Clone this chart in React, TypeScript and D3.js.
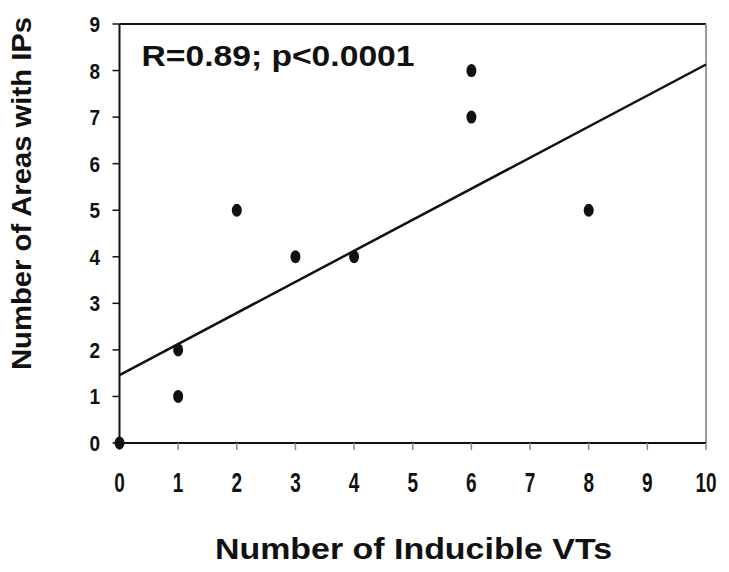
import React from "react";
import * as d3 from "d3";

const xTicks = [0, 1, 2, 3, 4, 5, 6, 7, 8, 9, 10];
const yTicks = [0, 1, 2, 3, 4, 5, 6, 7, 8, 9];
const pointX = [0, 1, 1, 2, 3, 4, 6, 6, 8];
const pointY = [0, 1, 2, 5, 4, 4, 7, 8, 5];
const fitX = [0, 10];
const fitY = [1.46, 8.13];
const xTitle = "Number of Inducible VTs";
const yTitle = "Number of Areas with IPs";
const annotation = "R=0.89; p<0.0001";

const W = 729;
const H = 572;
const left = 119.5;
const right = 706;
const top = 24;
const bottom = 443;
const font = "'Liberation Sans', Arial, sans-serif";

export default function App() {
  const x = d3.scaleLinear().domain([0, 10]).range([left, right]);
  const y = d3.scaleLinear().domain([0, 9]).range([bottom, top]);
  const line = d3
    .line<number>()
    .x((_, i) => x(fitX[i]))
    .y((d) => y(d));

  return (
    <svg
      width={W}
      height={H}
      style={{ position: "absolute", left: 0, top: 0, background: "#fff" }}
    >
      <rect x={0} y={0} width={W} height={H} fill="#fff" />
      {/* frame */}
      <line x1={left} x2={right} y1={top} y2={top} stroke="#111" strokeWidth={2} />
      <line x1={right} x2={right} y1={top} y2={bottom} stroke="#999" strokeWidth={2} />
      <line x1={left} x2={left} y1={top} y2={bottom} stroke="#111" strokeWidth={2} />
      <line x1={left} x2={right} y1={bottom} y2={bottom} stroke="#111" strokeWidth={2} />

      {/* y ticks */}
      {yTicks.map((t) => (
        <g key={"y" + t}>
          <line x1={left - 7} x2={left} y1={y(t)} y2={y(t)} stroke="#111" strokeWidth={1.5} />
          <text
            transform={`translate(100,${y(t) + 8}) scale(1,1.2)`}
            textAnchor="end"
            fontFamily={font}
            fontWeight="bold"
            fontSize={19}
            fill="#111"
          >
            {t}
          </text>
        </g>
      ))}

      {/* x ticks */}
      {xTicks.map((t) => (
        <g key={"x" + t}>
          <line x1={x(t)} x2={x(t)} y1={bottom} y2={bottom + 7} stroke="#888" strokeWidth={1.5} />
          <text
            transform={`translate(${x(t)},${492}) scale(1,1.5)`}
            textAnchor="middle"
            fontFamily={font}
            fontWeight="bold"
            fontSize={19}
            fill="#111"
          >
            {t}
          </text>
        </g>
      ))}

      {/* fit line */}
      <path d={line(fitY) || ""} fill="none" stroke="#111" strokeWidth={2.5} />

      {/* points */}
      {pointX.map((px, i) => (
        <ellipse
          key={"p" + i}
          cx={x(px)}
          cy={y(pointY[i])}
          rx={5}
          ry={6.5}
          fill="#111"
        />
      ))}

      {/* annotation */}
      <text
        x={141.5}
        y={66}
        fontFamily={font}
        fontWeight="bold"
        fontSize={29}
        textLength={273}
        lengthAdjust="spacingAndGlyphs"
        fill="#111"
      >
        {annotation}
      </text>

      {/* axis titles */}
      <text
        x={413.5}
        y={559}
        textAnchor="middle"
        fontFamily={font}
        fontWeight="bold"
        fontSize={30}
        textLength={397}
        lengthAdjust="spacingAndGlyphs"
        fill="#111"
      >
        {xTitle}
      </text>
      <text
        transform={`translate(31,193.5) rotate(-90)`}
        textAnchor="middle"
        fontFamily={font}
        fontWeight="bold"
        fontSize={28}
        textLength={353}
        lengthAdjust="spacingAndGlyphs"
        fill="#111"
      >
        {yTitle}
      </text>
    </svg>
  );
}
